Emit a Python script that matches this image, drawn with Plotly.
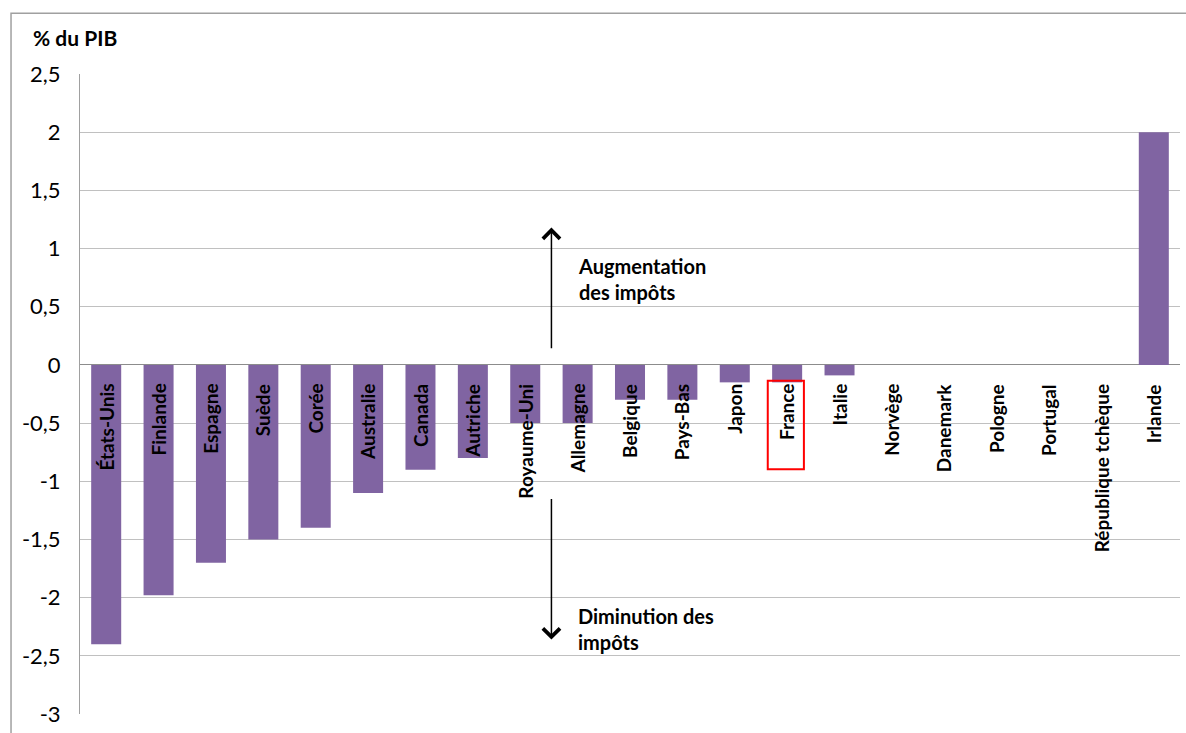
import plotly.graph_objects as go

categories = ["États-Unis", "Finlande", "Espagne", "Suède", "Corée", "Australie", "Canada",
              "Autriche", "Royaume-Uni", "Allemagne", "Belgique", "Pays-Bas", "Japon", "France",
              "Italie", "Norvège", "Danemark", "Pologne", "Portugal", "République tchèque", "Irlande"]
values = [-2.4, -1.98, -1.7, -1.5, -1.4, -1.1, -0.9, -0.8, -0.5, -0.5, -0.3, -0.3, -0.15, -0.15,
          -0.09, 0, 0, 0, 0, 0, 2.0]
tick_vals = [2.5, 2, 1.5, 1, 0.5, 0, -0.5, -1, -1.5, -2, -2.5, -3]
tick_text = ["2,5", "2", "1,5", "1", "0,5", "0", "-0,5", "-1", "-1,5", "-2", "-2,5", "-3"]
highlight = "France"

PURPLE = "#8064A2"
FONT = "Lato"

fig = go.Figure()
fig.add_trace(go.Bar(x=list(range(len(categories))), y=values, marker_color=PURPLE,
                     marker_line_width=0, width=0.573, hoverinfo="skip"))

# category labels inside plot, rotated
for i, c in enumerate(categories):
    fig.add_annotation(x=i, y=0, xref="x", yref="y", text=c, textangle=-90, showarrow=False,
                       yanchor="top", xanchor="center", yshift=-17,
                       font=dict(family=FONT, size=19, color="black", weight="bold"))

# highlight box
hi = categories.index(highlight)
fig.add_shape(type="rect", xref="x", yref="y", x0=hi - 0.37, x1=hi + 0.32, y0=-0.137, y1=-0.897,
              line=dict(color="#FF0000", width=2), fillcolor="rgba(0,0,0,0)")

# arrows
fig.add_annotation(x=8.5, y=1.18, ax=8.5, ay=0.13, xref="x", yref="y", axref="x", ayref="y",
                   showarrow=True, arrowhead=4, arrowsize=2.2, arrowwidth=1.5, arrowcolor="black", text="")
fig.add_annotation(x=8.5, y=-2.36, ax=8.5, ay=-1.14, xref="x", yref="y", axref="x", ayref="y",
                   showarrow=True, arrowhead=4, arrowsize=2.2, arrowwidth=1.5, arrowcolor="black", text="")
fig.add_annotation(x=8.96, y=0.735, xref="x", yref="y", xanchor="left", yanchor="middle",
                   text="Augmentation<br>des impôts", showarrow=False, align="left",
                   font=dict(family=FONT, size=20, color="black", weight="bold"))
fig.add_annotation(x=8.96, y=-2.27, xref="x", yref="y", xanchor="left", yanchor="middle",
                   text="Diminution des<br>impôts", showarrow=False, align="left",
                   font=dict(family=FONT, size=20, color="black", weight="bold"))

# title
fig.add_annotation(xref="paper", yref="paper", x=-0.0445, y=1.0573, xanchor="left", yanchor="middle",
                   text="% du PIB", showarrow=False,
                   font=dict(family=FONT, size=21, color="black", weight="bold"))

# outer border
fig.add_shape(type="rect", xref="paper", yref="paper", x0=-0.0627, x1=1.02, y0=-0.05, y1=1.095,
              line=dict(color="#A0A0A0", width=1.5), fillcolor="rgba(0,0,0,0)", layer="below")

fig.update_layout(
    width=1186, height=733,
    margin=dict(l=80, r=6, t=74, b=13),
    paper_bgcolor="white", plot_bgcolor="white",
    showlegend=False, bargap=0.43,
    xaxis=dict(range=[-0.5, len(categories) - 0.5], showticklabels=False, showgrid=False,
               zeroline=False, showline=False, ticks=""),
    yaxis=dict(range=[-3, 2.5], tickvals=tick_vals, ticktext=tick_text,
               showgrid=True, gridcolor="#C0C0C0", gridwidth=1,
               zeroline=True, zerolinecolor="#8C8C8C", zerolinewidth=1,
               showline=True, linecolor="#A0A0A0", linewidth=1,
               ticks="", ticklen=0, ticklabelstandoff=14, ticklabeloverflow="allow",
               tickfont=dict(family=FONT, size=22, color="black")),
)

fig.write_html("out.html", config={"displayModeBar": False},
               post_script="document.body.style.margin='0';")
